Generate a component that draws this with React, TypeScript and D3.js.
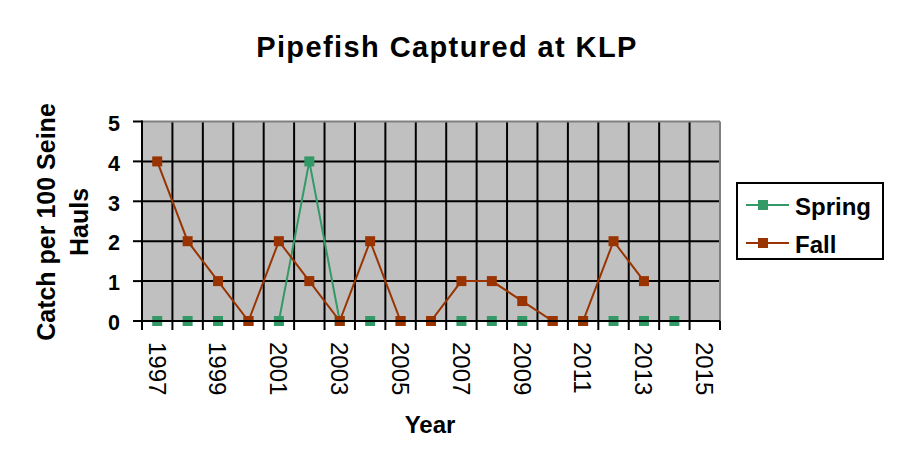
import React from 'react'
import * as d3 from 'd3'

const years = d3.range(1997, 2016).map(String)
const spring: (number | null)[] = [0, 0, 0, 0, 0, 4, 0, 0, 0, 0, 0, 0, 0, 0, 0, 0, 0, 0, null]
const fall: (number | null)[] = [4, 2, 1, 0, 2, 1, 0, 2, 0, 0, 1, 1, 0.5, 0, 0, 2, 1, null, null]
const yTicks = [0, 1, 2, 3, 4, 5]
const xLabels = years.filter((_, i) => i % 2 === 0)

const seriesList = [
    { name: 'Spring', values: spring, color: '#339966' },
    { name: 'Fall', values: fall, color: '#993300' },
]

export default function App() {
    const width = 898
    const height = 473
    const left = 142, right = 720, top = 121.5, bottom = 321

    const x = d3.scaleBand<string>().domain(years).range([left, right])
    const y = d3.scaleLinear().domain([0, 5]).range([bottom, top])
    const cx = (d: string) => (x(d) ?? 0) + x.bandwidth() / 2

    const line = d3.line<[string, number | null]>()
        .defined(d => d[1] !== null)
        .x(d => cx(d[0]))
        .y(d => y(d[1] as number))

    const boundaries = years.map(d => x(d) ?? 0).concat([right])
    const font = 'Arial, "Liberation Sans", sans-serif'

    return (
        <svg width={width} height={height} style={{ display: 'block', margin: -8 }} fontFamily={font}>
            <rect width={width} height={height} fill='#fff' />
            <text x={447} y={57} textAnchor='middle' fontSize={29} fontWeight='bold' letterSpacing={1.4}>Pipefish Captured at KLP</text>

            <rect x={left} y={top} width={right - left} height={bottom - top} fill='#c0c0c0' />
            {/* vertical gridlines */}
            {boundaries.slice(1, -1).map((b, i) => (
                <line key={'v' + i} x1={b} x2={b} y1={top} y2={bottom} stroke='#000' strokeWidth={2} />
            ))}
            {/* horizontal gridlines */}
            {yTicks.slice(1, -1).map(t => (
                <line key={'h' + t} x1={left} x2={right} y1={y(t)} y2={y(t)} stroke='#000' strokeWidth={2} />
            ))}
            <line x1={left} x2={right} y1={top} y2={top} stroke='#808080' strokeWidth={2} />
            <line x1={right} x2={right} y1={top} y2={bottom} stroke='#808080' strokeWidth={2} />

            {/* axes */}
            <line x1={left} x2={left} y1={top - 1} y2={bottom} stroke='#000' strokeWidth={2} />
            {yTicks.map(t => (
                <g key={'yt' + t}>
                    <line x1={left - 9} x2={left} y1={y(t)} y2={y(t)} stroke='#000' strokeWidth={2} />
                    <text x={120} y={y(t) + 1.5} dy='0.36em' textAnchor='end' fontSize={21.5} fontWeight='bold'>{t}</text>
                </g>
            ))}
            {boundaries.map((b, i) => (
                <line key={'xt' + i} x1={b} x2={b} y1={bottom} y2={bottom + 9} stroke='#000' strokeWidth={2} />
            ))}
            {xLabels.map(d => (
                <text key={'xl' + d} transform={`translate(${cx(d)},342) rotate(90)`} dy='0.36em'
                    fontSize={24}>{d}</text>
            ))}

            {/* series */}
            {seriesList.map(s => {
                const pts = years.map((d, i) => [d, s.values[i]] as [string, number | null])
                return (
                    <g key={s.name}>
                        <path d={line(pts) ?? ''} fill='none' stroke={s.color} strokeWidth={2} />
                        {pts.filter(p => p[1] !== null).map(p => (
                            <rect key={p[0]} x={cx(p[0]) - 5} y={y(p[1] as number) - 5} width={10} height={10} fill={s.color} />
                        ))}
                    </g>
                )
            })}
            <line x1={left} x2={right} y1={bottom} y2={bottom} stroke='#000' strokeWidth={2} />

            <text x={430} y={433} textAnchor='middle' fontSize={24} fontWeight='bold'>Year</text>
            <text transform='translate(55,222) rotate(-90)' textAnchor='middle' fontSize={25} fontWeight='bold'>
                <tspan x={0} dy={0}>Catch per 100 Seine</tspan>
                <tspan x={0} dy={33}>Hauls</tspan>
            </text>

            {/* legend */}
            <rect x={737} y={183} width={146} height={76} fill='#fff' stroke='#000' strokeWidth={2} />
            {seriesList.map((s, i) => {
                const ly = 205 + i * 38
                return (
                    <g key={'lg' + s.name}>
                        <line x1={746} x2={789} y1={ly} y2={ly} stroke={s.color} strokeWidth={2} />
                        <rect x={763 - 5} y={ly - 5} width={10} height={10} fill={s.color} />
                        <text x={795} y={ly + 1} dy='0.36em' fontSize={24} fontWeight='bold'>{s.name}</text>
                    </g>
                )
            })}
        </svg>
    )
}
